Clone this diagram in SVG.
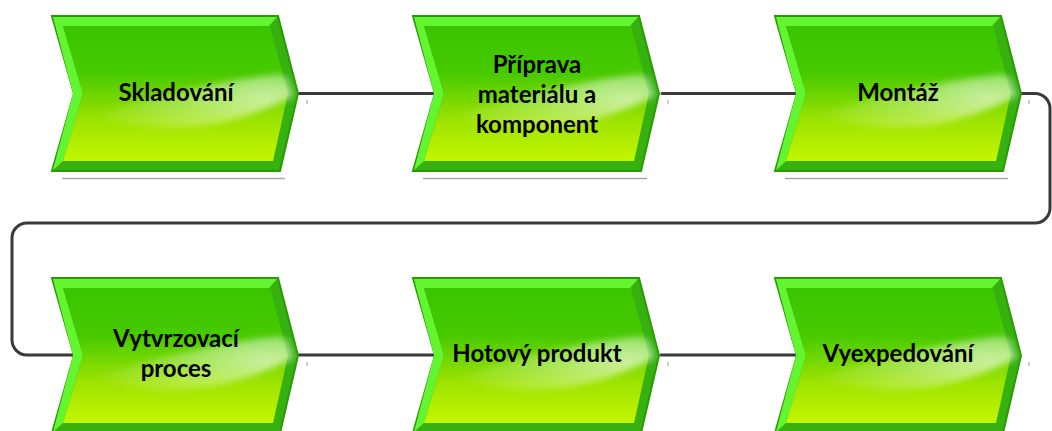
<svg xmlns="http://www.w3.org/2000/svg" xmlns:xlink="http://www.w3.org/1999/xlink" width="1052" height="431" viewBox="0 0 1052 431">
  <style>
    .label { font-family: "Lato", "Liberation Sans", sans-serif; font-weight: bold; font-size: 24px; fill: #000; text-anchor: middle; }
    .conn { fill: none; stroke: #3a3a3a; stroke-width: 3; stroke-linecap: round; stroke-linejoin: round; }
    .tick { stroke: #9a9a9a; stroke-width: 1; }
    .shadow { stroke: #a8a8a8; stroke-width: 1.5; }
  </style>
  <defs>
    <!-- body fill: saturated green at the top, yellow-green at the bottom -->
    <linearGradient id="body" gradientUnits="userSpaceOnUse" x1="0" y1="10" x2="0" y2="145">
      <stop offset="0" stop-color="#3ac500"/>
      <stop offset="0.35" stop-color="#47ca00"/>
      <stop offset="0.7" stop-color="#9de300"/>
      <stop offset="1" stop-color="#c4f600"/>
    </linearGradient>
    <radialGradient id="gloss" gradientUnits="userSpaceOnUse" cx="215" cy="82" r="185" gradientTransform="translate(215 82) scale(1 0.4) translate(-215 -82)">
      <stop offset="0" stop-color="#ffffff" stop-opacity="0.62"/>
      <stop offset="0.5" stop-color="#ffffff" stop-opacity="0.28"/>
      <stop offset="1" stop-color="#ffffff" stop-opacity="0"/>
    </radialGradient>
    <filter id="soft" x="-10%" y="-40%" width="120%" height="180%">
      <feGaussianBlur stdDeviation="3"/>
    </filter>
    <!-- chevron function shape, local size 246 x 155 -->
    <g id="chev">
      <polygon points="0,0 226,0 246,77.5 228,155 0,155 22,77.5" fill="#36b10f" stroke="#2a9a05" stroke-width="2"/>
      <!-- light bevel along top and left edges -->
      <polygon points="1,1 225,1 217,10 11,10 31,77.5 11,145 1,154 21,77.5" fill="#62f530"/>
      <polygon points="11,10 218,10 236,77.5 221,145 11,145 31,77.5" fill="url(#body)"/>
      <path d="M40,100 Q130,70 226,58 L236,62 L242,80 Q175,114 110,112 Q70,109 40,100 Z" fill="url(#gloss)" filter="url(#soft)"/>
    </g>
  </defs>

  <g id="connectors">
    <path class="conn" d="M298,93.5 H433"/>
    <path class="conn" d="M662,93.5 H795"/>
    <path class="conn" d="M1022,93.5 H1035 A15,15 0 0 1 1050,108.5 V208 A15,15 0 0 1 1035,223 H27 A15,15 0 0 0 12,238 V340 A15,15 0 0 0 27,355 H74"/>
    <path class="conn" d="M298,355 H435"/>
    <path class="conn" d="M661,355 H797"/>
    <line class="tick" x1="307" y1="100" x2="307" y2="104"/>
    <line class="tick" x1="668" y1="100" x2="668" y2="104"/>
    <line class="tick" x1="1029" y1="100" x2="1029" y2="104"/>
    <line class="tick" x1="307" y1="362" x2="307" y2="366"/>
    <line class="tick" x1="668" y1="362" x2="668" y2="366"/>
    <line class="tick" x1="1029" y1="362" x2="1029" y2="366"/>
  </g>

  <g id="skladovani">
    <line class="shadow" x1="62" y1="178.5" x2="285" y2="178.5"/>
    <use xlink:href="#chev" href="#chev" x="52" y="16"/>
    <text class="label" x="176" y="101">Skladování</text>
  </g>

  <g id="priprava">
    <line class="shadow" x1="423" y1="178.5" x2="647" y2="178.5"/>
    <use xlink:href="#chev" href="#chev" x="413" y="16"/>
    <text class="label" x="537" y="73">Příprava</text>
    <text class="label" x="537" y="103">materiálu a</text>
    <text class="label" x="537" y="133">komponent</text>
  </g>

  <g id="montaz">
    <line class="shadow" x1="785" y1="178.5" x2="1008" y2="178.5"/>
    <use xlink:href="#chev" href="#chev" x="775" y="16"/>
    <text class="label" x="898" y="101">Montáž</text>
  </g>

  <g id="vytvrzovaci">
    <use xlink:href="#chev" href="#chev" x="52" y="278"/>
    <text class="label" x="176" y="347">Vytvrzovací</text>
    <text class="label" x="176" y="377">proces</text>
  </g>

  <g id="hotovy-produkt">
    <use xlink:href="#chev" href="#chev" x="413" y="278"/>
    <text class="label" x="537" y="362">Hotový produkt</text>
  </g>

  <g id="vyexpedovani">
    <use xlink:href="#chev" href="#chev" x="775" y="278"/>
    <text class="label" x="898" y="362">Vyexpedování</text>
  </g>
</svg>
